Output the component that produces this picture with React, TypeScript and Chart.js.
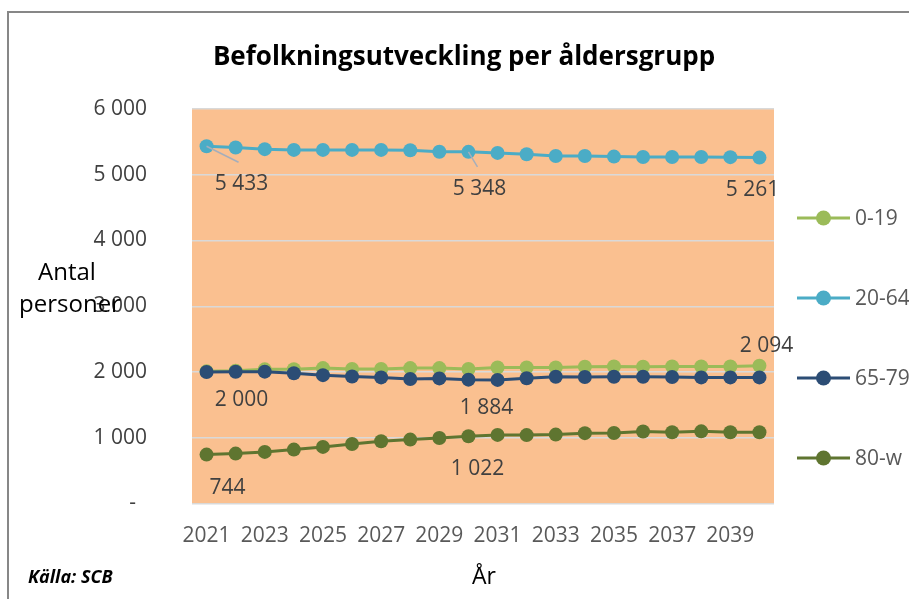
import React, { useEffect, useRef } from "react";
import { Chart, registerables } from "chart.js";

Chart.register(...registerables);

const years = ["2021","2022","2023","2024","2025","2026","2027","2028","2029","2030","2031","2032","2033","2034","2035","2036","2037","2038","2039","2040"];
const age0_19 = [2010, 2020, 2040, 2043, 2059, 2045, 2045, 2059, 2059, 2045, 2069, 2069, 2069, 2079, 2084, 2079, 2084, 2084, 2084, 2094];
const age20_64 = [5433, 5414, 5389, 5378, 5378, 5378, 5378, 5373, 5350, 5348, 5332, 5312, 5286, 5286, 5276, 5271, 5271, 5270, 5268, 5261];
const age65_79 = [2000, 2003, 2005, 1982, 1952, 1932, 1918, 1893, 1903, 1884, 1880, 1906, 1928, 1924, 1928, 1928, 1924, 1918, 1918, 1918];
const age80w = [744, 759, 785, 820, 861, 906, 947, 972, 997, 1022, 1043, 1040, 1048, 1070, 1073, 1095, 1084, 1097, 1084, 1084];
const seriesNames = ["0-19", "20-64", "65-79", "80-w"];
const seriesColors = ["#9BBB59", "#4BACC6", "#2C4D75", "#5F7530"];
const yTicks = [0, 1000, 2000, 3000, 4000, 5000, 6000];

const titleText = "Befolkningsutveckling per åldersgrupp";
const yTitleLines = ["Antal", "personer"];
const xTitle = "År";
const sourceText = "Källa: SCB";

// which points get a value label: dataset index, point index, label offset, optional leader end
const labelSpecs = [
  { ds: 1, idx: 0, dx: 35, dy: 38, lead: [32, 16] },
  { ds: 1, idx: 9, dx: 11, dy: 37, lead: [9, 15] },
  { ds: 1, idx: 19, dx: -7, dy: 32, lead: null },
  { ds: 0, idx: 19, dx: 7, dy: -20, lead: null },
  { ds: 2, idx: 0, dx: 35, dy: 28, lead: null },
  { ds: 2, idx: 9, dx: 18, dy: 28, lead: null },
  { ds: 3, idx: 0, dx: 21, dy: 33, lead: null },
  { ds: 3, idx: 9, dx: 9, dy: 33, lead: null },
];

const FONT = "'Open Sans', 'Liberation Sans', sans-serif";
const fmt = (v: number) => String(Math.round(v)).replace(/\B(?=(\d{3})+(?!\d))/g, " ");

const decorPlugin = {
  id: "decor",
  beforeDraw(chart: any) {
    const { ctx, chartArea } = chart;
    ctx.save();
    ctx.fillStyle = "#FAC090";
    ctx.fillRect(chartArea.left, chartArea.top, chartArea.right - chartArea.left, chartArea.bottom - chartArea.top);
    ctx.restore();
  },
  afterDraw(chart: any) {
    const { ctx } = chart;
    ctx.save();
    // title
    ctx.fillStyle = "#000";
    ctx.font = `bold 26px ${FONT}`;
    ctx.textAlign = "center";
    ctx.textBaseline = "alphabetic";
    ctx.fillText(titleText, 464, 65);

    // y title
    ctx.fillStyle = "#000";
    ctx.font = `24px ${FONT}`;
    ctx.fillText(yTitleLines[0], 67, 280);
    ctx.fillText(yTitleLines[1], 70, 312);

    // x title
    ctx.font = `23px ${FONT}`;
    ctx.fillText(xTitle, 484, 584);

    // source
    ctx.textAlign = "left";
    ctx.font = `italic bold 18px ${FONT}`;
    ctx.fillText(sourceText, 28, 583);

    // legend
    const legendY = [218, 298, 378, 458];
    seriesNames.forEach((name, i) => {
      const y = legendY[i];
      ctx.strokeStyle = seriesColors[i];
      ctx.lineWidth = 3;
      ctx.beginPath();
      ctx.moveTo(797, y);
      ctx.lineTo(850, y);
      ctx.stroke();
      ctx.fillStyle = seriesColors[i];
      ctx.beginPath();
      ctx.arc(823.5, y, 7.5, 0, Math.PI * 2);
      ctx.fill();
      ctx.fillStyle = "#595959";
      ctx.font = `21px ${FONT}`;
      ctx.textAlign = "left";
      ctx.textBaseline = "middle";
      ctx.fillText(name, 855, y + 1);
    });

    // data labels
    labelSpecs.forEach((s) => {
      const meta = chart.getDatasetMeta(s.ds);
      const pt = meta.data[s.idx];
      const value = chart.data.datasets[s.ds].data[s.idx];
      if (s.lead) {
        ctx.strokeStyle = "#A5AEBB";
        ctx.lineWidth = 1.5;
        ctx.beginPath();
        ctx.moveTo(pt.x, pt.y);
        ctx.lineTo(pt.x + s.lead[0], pt.y + s.lead[1]);
        ctx.stroke();
      }
      ctx.fillStyle = "#404040";
      ctx.font = `21px ${FONT}`;
      ctx.textAlign = "center";
      ctx.textBaseline = "middle";
      ctx.fillText(fmt(value), pt.x + s.dx, pt.y + s.dy);
    });
    ctx.restore();
  },
};

export default function App() {
  const ref = useRef<HTMLCanvasElement | null>(null);
  useEffect(() => {
    if (!ref.current) return;
    const seriesData = [age0_19, age20_64, age65_79, age80w];
    const orders = [4, 3, 2, 1];
    const chart = new Chart(ref.current, {
      type: "line",
      data: {
        labels: years,
        datasets: seriesNames.map((name, i) => ({
          label: name,
          data: seriesData[i],
          borderColor: seriesColors[i],
          backgroundColor: seriesColors[i],
          pointBackgroundColor: seriesColors[i],
          pointBorderColor: seriesColors[i],
          borderWidth: 3,
          pointRadius: 7,
          pointBorderWidth: 0,
          tension: 0,
          order: orders[i],
        })),
      },
      options: {
        animation: false,
        responsive: false,
        layout: { padding: { top: 109, right: 135, left: 0, bottom: 0 } },
        plugins: {
          legend: { display: false },
          title: { display: false },
          tooltip: { enabled: false },
        },
        scales: {
          x: {
            type: "category",
            offset: true,
            grid: { display: false, drawTicks: false },
            border: { display: false },
            ticks: {
              autoSkip: false,
              maxRotation: 0,
              minRotation: 0,
              padding: 20,
              color: "#595959",
              font: { family: FONT, size: 21 },
              callback: (_v: any, i: number) => (i % 2 === 0 ? years[i] : ""),
            },
            afterFit: (s: any) => {
              s.height = 95.5;
            },
          },
          y: {
            min: 0,
            max: 6000,
            afterBuildTicks: (s: any) => {
              s.ticks = yTicks.map((v) => ({ value: v }));
            },
            grid: { color: "#D9D9D9", lineWidth: 1.5, drawTicks: false },
            border: { display: false },
            ticks: {
              padding: 45,
              color: "#404040",
              font: { family: FONT, size: 21 },
              callback: (v: any) => (Number(v) === 0 ? "-  " : fmt(Number(v))),
            },
            afterFit: (s: any) => {
              s.width = 192;
            },
          },
        },
      },
      plugins: [decorPlugin],
    });
    return () => chart.destroy();
  }, []);
  return (
    <div style={{ position: "fixed", left: 0, top: 0, width: 909, height: 599, background: "#fff", overflow: "hidden" }}>
      <div style={{ position: "absolute", left: 7, top: 11, width: 1000, height: 800, border: "2px solid #878787", boxSizing: "border-box" }} />
      <canvas ref={ref} width={909} height={599} style={{ position: "absolute", left: 0, top: 0, width: 909, height: 599 }} />
    </div>
  );
}
